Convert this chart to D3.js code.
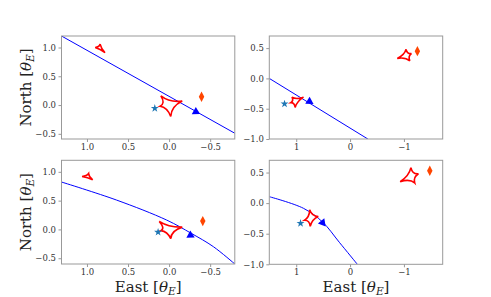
<!DOCTYPE html>
<html><head><meta charset="utf-8">
<script src="https://cdn.jsdelivr.net/npm/d3@7"></script>
<style>
body{margin:0;background:#fff}
text{font-family:"DejaVu Serif",serif}
</style></head><body>
<script>
// tick values
var xTicksL = [1.0, 0.5, 0.0, -0.5]
var xTicksR = [1, 0, -1]
var yTicksL = [-0.5, 0.0, 0.5, 1.0]
var yTicksR = [-1.0, -0.5, 0.0, 0.5]

// top left
var traj1 = [[1.31, 1.2], [-0.8, -0.49]]
var causticA1 = [[0.10, 0.16], [-0.16, 0.07], [-0.02, -0.2], [0.11, -0.02]]
var causticB1 = [[0.90, 1.0], [0.84, 1.06], [0.78, 0.91]]
var star1 = [0.174, -0.057]
var diamond1 = [-0.395, 0.144]
var arrow1 = [-0.326, -0.116]

// top right
var traj2 = [[1.5, 0.0], [-0.33, -1.0]]
var causticA2 = [[1.08, -0.31], [0.865, -0.31], [1.02, -0.48], [1.1, -0.4]]
var causticB2 = [[-0.876, 0.33], [-1.04, 0.48], [-1.14, 0.41], [-1.11, 0.29]]
var star2 = [1.217, -0.42]
var diamond2 = [-1.25, 0.45]
var arrow2 = [0.754, -0.38]

// bottom left
var traj3 = [[1.31, 0.823], [0.64, 0.51], [0.03, 0.163], [-0.27, -0.068], [-0.54, -0.3], [-0.8, -0.6]]
var causticA3 = [[0.12, 0.14], [-0.16, 0.04], [-0.02, -0.16], [0.1, -0.02]]
var causticB3 = [[1.06, 0.92], [0.98, 0.97], [0.93, 0.86]]
var star3 = [0.134, -0.047]
var diamond3 = [-0.41, 0.145]
var arrow3 = [-0.26, -0.1]

// bottom right
var traj4 = [[1.5, 0.105], [0.865, -0.085], [0.51, -0.31], [0.2, -0.64], [-0.135, -1.0]]
var causticA4 = [[0.846, -0.28], [0.75, -0.11], [0.59, -0.22], [0.74, -0.38]]
var causticB4 = [[-0.93, 0.35], [-1.13, 0.58], [-1.27, 0.48], [-1.2, 0.33]]
var star4 = [0.92, -0.33]
var diamond4 = [-1.48, 0.53]
var arrow4 = [0.51, -0.32]

var width = 491, height = 297

var svg = d3.select('body').append('svg')
	.attr('width', width)
	.attr('height', height)
	.style('background', '#fff')

var panels = [
	{l:61.5, r:234.8, t:36, b:139, xd:[1.31,-0.8], yd:[-0.59,1.2], xt:xTicksL, yt:yTicksL, xf:'.1f',
	 traj:traj1, caus:[causticA1,causticB1], star:star1, dia:diamond1, arr:arrow1, ylab:true},
	{l:269.3, r:442.7, t:36, b:139, xd:[1.5,-1.72], yd:[-1.0,0.7], xt:xTicksR, yt:yTicksR, xf:'d',
	 traj:traj2, caus:[causticA2,causticB2], star:star2, dia:diamond2, arr:arrow2},
	{l:61.5, r:234.8, t:160.3, b:264, xd:[1.31,-0.8], yd:[-0.6,1.2], xt:xTicksL, yt:yTicksL, xf:'.1f',
	 traj:traj3, caus:[causticA3,causticB3], star:star3, dia:diamond3, arr:arrow3, ylab:true, xlab:true},
	{l:269.3, r:442.7, t:160.3, b:264.3, xd:[1.5,-1.72], yd:[-1.0,0.7], xt:xTicksR, yt:yTicksR, xf:'d',
	 traj:traj4, caus:[causticA4,causticB4], star:star4, dia:diamond4, arr:arrow4, xlab:true}
]

panels.forEach(function(p, i) {
	var x = d3.scaleLinear().domain(p.xd).range([p.l, p.r])
	var y = d3.scaleLinear().domain(p.yd).range([p.b, p.t])
	var g = svg.append('g')

	g.append('clipPath').attr('id', 'clip' + i)
		.append('rect')
		.attr('x', p.l).attr('y', p.t)
		.attr('width', p.r - p.l).attr('height', p.b - p.t)

	var plot = g.append('g').attr('clip-path', 'url(#clip' + i + ')')

	// trajectory
	plot.append('path')
		.attr('d', d3.line().x(d => x(d[0])).y(d => y(d[1])).curve(d3.curveCatmullRom)(p.traj))
		.attr('fill', 'none')
		.attr('stroke', '#0000ff')
		.attr('stroke-width', 1)

	// caustics: cusps joined by concave curves
	p.caus.forEach(function(c) {
		var pts = c.map(d => [x(d[0]), y(d[1])])
		var cx = d3.mean(pts, d => d[0]), cy = d3.mean(pts, d => d[1])
		var k = 0.35
		var path = 'M' + pts[0]
		pts.forEach(function(a, j) {
			var b = pts[(j + 1) % pts.length]
			var mx = (a[0] + b[0]) / 2, my = (a[1] + b[1]) / 2
			path += 'Q' + (cx + k * (mx - cx)) + ',' + (cy + k * (my - cy)) + ' ' + b
		})
		plot.append('path')
			.attr('d', path + 'Z')
			.attr('fill', 'none')
			.attr('stroke', '#ff0000')
			.attr('stroke-width', 1.6)
			.attr('stroke-linejoin', 'miter')
	})

	// arrow head along trajectory
	var seg = 0
	for (var j = 0; j < p.traj.length - 1; j++) {
		if (p.arr[0] <= p.traj[j][0] && p.arr[0] >= p.traj[j + 1][0]) seg = j
	}
	var a0 = p.traj[seg], a1 = p.traj[seg + 1]
	var ang = Math.atan2(y(a1[1]) - y(a0[1]), x(a1[0]) - x(a0[0])) * 180 / Math.PI
	plot.append('path')
		.attr('d', d3.symbol().type(d3.symbolTriangle).size(30)())
		.attr('transform', 'translate(' + x(p.arr[0]) + ',' + y(p.arr[1]) + ') rotate(' + (ang + 90) + ')')
		.attr('fill', '#0000ff')

	// star
	plot.append('path')
		.attr('d', d3.symbol().type(d3.symbolStar).size(20)())
		.attr('transform', 'translate(' + x(p.star[0]) + ',' + y(p.star[1]) + ')')
		.attr('fill', '#1f77b4')

	// thin diamond
	plot.append('path')
		.attr('d', d3.symbol().type(d3.symbolDiamond).size(40)())
		.attr('transform', 'translate(' + x(p.dia[0]) + ',' + y(p.dia[1]) + ') scale(0.8,0.88)')
		.attr('fill', '#ff4500')

	// axes
	var ax = g.append('g')
		.attr('transform', 'translate(0,' + p.b + ')')
		.call(d3.axisBottom(x).tickValues(p.xt).tickFormat(d3.format(p.xf)).tickSize(3).tickPadding(2))
	var ay = g.append('g')
		.attr('transform', 'translate(' + p.l + ',0)')
		.call(d3.axisLeft(y).tickValues(p.yt).tickFormat(d3.format('.1f')).tickSize(3).tickPadding(2.5))
	;[ax, ay].forEach(function(a) {
		a.select('.domain').remove()
		a.selectAll('line').attr('stroke', '#999')
		a.selectAll('text').attr('fill', '#333').style('font-size', '8.5px').style('font-family', '"DejaVu Serif", serif')
	})

	g.append('rect')
		.attr('x', p.l).attr('y', p.t)
		.attr('width', p.r - p.l).attr('height', p.b - p.t)
		.attr('fill', 'none')
		.attr('stroke', '#999')
		.attr('stroke-width', 1)

	if (p.ylab) {
		var t = g.append('text')
			.attr('transform', 'translate(30.5,' + (p.t + p.b) / 2 + ') rotate(-90)')
			.attr('text-anchor', 'middle')
			.style('font-size', '15px')
			.attr('fill', '#222')
		t.append('tspan').text('North [')
		t.append('tspan').text('θ').style('font-style', 'italic')
		t.append('tspan').text('E').style('font-style', 'italic').style('font-size', '10.5px').attr('dy', 3)
		t.append('tspan').text(']').attr('dy', -3)
	}
	if (p.xlab) {
		var t2 = g.append('text')
			.attr('x', (p.l + p.r) / 2)
			.attr('y', 291.5)
			.attr('text-anchor', 'middle')
			.style('font-size', '15px')
			.attr('fill', '#222')
		t2.append('tspan').text('East [')
		t2.append('tspan').text('θ').style('font-style', 'italic')
		t2.append('tspan').text('E').style('font-style', 'italic').style('font-size', '10.5px').attr('dy', 3)
		t2.append('tspan').text(']').attr('dy', -3)
	}
})
</script>
</body></html>
